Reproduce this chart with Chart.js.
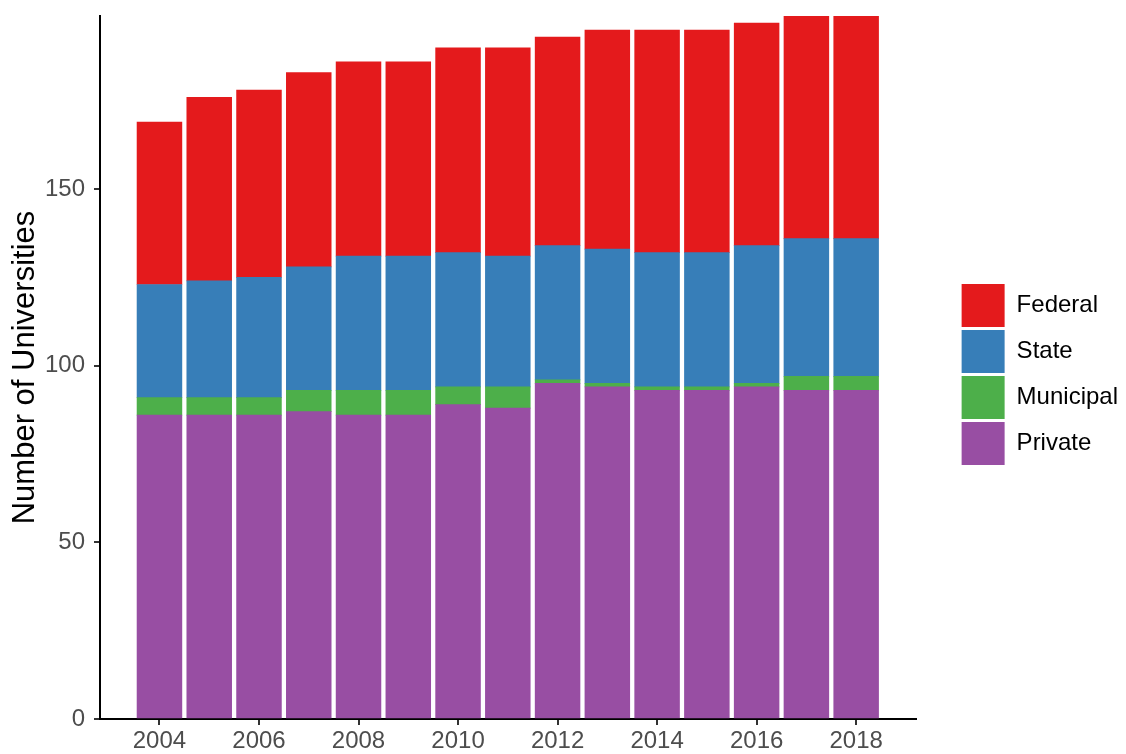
<!DOCTYPE html>
<html><head><meta charset="utf-8">
<script src="https://cdn.jsdelivr.net/npm/chart.js@4.4.1/dist/chart.umd.min.js"></script>
<style>html,body{margin:0;padding:0;background:#fff}#wrap{width:1126px;height:754px}</style>
</head><body><div id="wrap"><canvas id="c"></canvas></div>
<script>
const years = [2004, 2005, 2006, 2007, 2008, 2009, 2010, 2011, 2012, 2013, 2014, 2015, 2016, 2017, 2018];
const privateU   = [86, 86, 86, 87, 86, 86, 89, 88, 95, 94, 93, 93, 94, 93, 93];
const municipalU = [5, 5, 5, 6, 7, 7, 5, 6, 1, 1, 1, 1, 1, 4, 4];
const stateU     = [32, 33, 34, 35, 38, 38, 38, 37, 38, 38, 38, 38, 39, 39, 39];
const federalU   = [46, 52, 53, 55, 55, 55, 58, 59, 59, 62, 63, 63, 63, 63, 63];
const xTicks = [2004, 2006, 2008, 2010, 2012, 2014, 2016, 2018];
const yTicks = [0, 50, 100, 150];
const seriesNames = ['Private', 'Municipal', 'State', 'Federal'];
const seriesColors = ['#984EA3', '#4DAF4A', '#377EB8', '#E41A1C'];

const FONT = '"Liberation Sans", Arial, sans-serif';
const seriesData = [privateU, municipalU, stateU, federalU];
const totals = years.map((_, i) => seriesData.reduce((s, arr) => s + arr[i], 0));
const yMax = Math.max(...totals);
const half = 0.45;
const span = (years[years.length - 1] + half) - (years[0] - half);
const xMin = years[0] - half - span * 0.05;
const xMax = years[years.length - 1] + half + span * 0.05;

const datasets = seriesData.map((arr, k) => ({
  label: seriesNames[k],
  data: arr.map((v, i) => ({x: years[i], y: v})),
  backgroundColor: seriesColors[k],
  borderWidth: 0,
  inflateAmount: 0.35,
  barPercentage: 0.9,
  categoryPercentage: 1.0,
  xAxisID: 'x',
  yAxisID: 'y'
}));

function noPad(s) { s.paddingTop = 0; s.paddingBottom = 0; s.paddingLeft = 0; s.paddingRight = 0; }

new Chart(document.getElementById('c'), {
  type: 'bar',
  data: {datasets},
  options: {
    responsive: true,
    maintainAspectRatio: false,
    animation: false,
    layout: {padding: {left: 0, right: -2, top: 0, bottom: 5}},
    plugins: {
      tooltip: {enabled: false},
      legend: {
        position: 'right',
        reverse: true,
        labels: {
          boxWidth: 43, boxHeight: 43, padding: 3,
          color: '#000000',
          font: {family: FONT, size: 24}
        }
      }
    },
    scales: {
      x: {
        type: 'linear',
        position: 'bottom',
        stacked: true,
        offset: false,
        min: xMin, max: xMax,
        z: 1,
        grid: {display: true, drawOnChartArea: false, drawTicks: true, tickLength: 6, tickColor: '#333333', lineWidth: 2, offset: false},
        border: {display: true, color: '#000000', width: 2},
        ticks: {color: '#4D4D4D', font: {family: FONT, size: 24}, padding: 2, maxRotation: 0, autoSkip: false,
                callback: v => String(v)},
        afterBuildTicks: s => { s.ticks = xTicks.map(v => ({value: v})); },
        afterFit: s => { s.height = 30; noPad(s); }
      },
      x2: {
        type: 'linear', position: 'top', display: true,
        grid: {display: false}, border: {display: false}, ticks: {display: false},
        afterFit: s => { s.height = 16; noPad(s); }
      },
      y: {
        type: 'linear',
        position: 'left',
        stacked: true,
        min: 0, max: yMax,
        z: 1,
        grid: {display: true, drawOnChartArea: false, drawTicks: true, tickLength: 6, tickColor: '#333333', lineWidth: 2},
        border: {display: true, color: '#000000', width: 2},
        ticks: {color: '#4D4D4D', font: {family: FONT, size: 24}, padding: 9},
        afterBuildTicks: s => { s.ticks = yTicks.map(v => ({value: v})); },
        title: {display: true, text: 'Number of Universities', color: '#000000',
                font: {family: FONT, size: 31}, padding: {top: 7, bottom: 0}},
        afterFit: s => { s.width = 100; noPad(s); }
      },
      y2: {
        type: 'linear', position: 'right', display: true,
        grid: {display: false}, border: {display: false}, ticks: {display: false},
        afterFit: s => { s.width = 43; noPad(s); }
      }
    }
  }
});
</script>
</body></html>
